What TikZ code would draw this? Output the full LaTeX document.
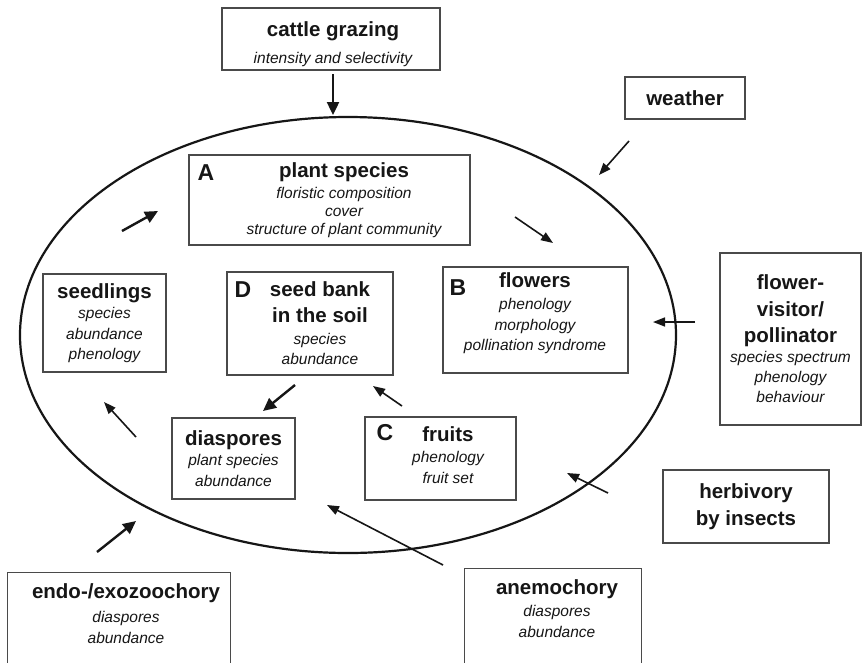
\documentclass[tikz,border=0pt]{standalone}
\usepackage{fontspec}
\setmainfont{Liberation Sans}
\usetikzlibrary{positioning,arrows.meta,shapes.geometric}
\definecolor{tinta}{HTML}{161616}
\definecolor{marco}{HTML}{4A4A4A}
\newcommand{\titulo}[1]{{\fontsize{20.5}{25}\selectfont\bfseries\upshape #1}}

\begin{document}
\begin{tikzpicture}[x=1pt, y=-1pt, color=tinta,
    caja/.style={draw=marco, line width=1.2pt, inner sep=0pt},
    texto/.style={inner sep=0pt, align=center, font=\fontsize{15.5}{20.5}\selectfont\itshape},
    letra/.style={inner sep=0pt, font=\fontsize{23}{23}\selectfont\bfseries},
    fina/.style={line width=1.6pt, -{Triangle[length=12pt,width=9pt]}},
    gruesa/.style={line width=2.4pt, -{Triangle[length=13pt,width=12pt]}}]
  \path[use as bounding box, fill=white] (0,0) rectangle (862,662);
  \node[draw, ellipse, line width=2.2pt, minimum width=656pt, minimum height=436pt, inner sep=0pt] (ciclo) at (348,335) {};

  % factores de fuera
  \node[caja, minimum width=218pt, minimum height=62pt] (pastoreo) at (331,39) {};
  \node[texto] (pastoreotxt) at (333,44) {\titulo{cattle grazing}\\[7pt]intensity and selectivity};
  \node[caja, texto, minimum width=120pt, minimum height=42pt] (clima) at (685,98) {\titulo{weather}};
  \node[caja, texto, minimum width=141pt, minimum height=172pt] (polinizador) at (790.5,339)
    {\titulo{flower-}\\[6pt]\titulo{visitor/}\\[6pt]\titulo{pollinator}\\[-0.5pt]species spectrum\\[-0.5pt]phenology\\[-0.5pt]behaviour};
  \node[caja, texto, minimum width=166pt, minimum height=73pt] (herbivoria) at (746,506.5)
    {\titulo{herbivory}\\[6.5pt]\titulo{by insects}};
  \node[caja, anchor=north west, minimum width=223pt, minimum height=130pt] (endozoo) at (7,572) {};
  \node[texto, anchor=north] (endozootxt) at (126,583) {\titulo{endo-/exozoochory}\\[4pt]diaspores\\abundance};
  \node[caja, anchor=north west, minimum width=177pt, minimum height=130pt] (anemo) at (464,568) {};
  \node[texto, anchor=north] (anemotxt) at (557,579) {\titulo{anemochory}\\[2pt]diaspores\\abundance};

  % ciclo de la planta
  \node[caja, minimum width=281pt, minimum height=90pt] (especies) at (329.5,200) {};
  \node[texto] (especiestxt) at (344,200)
    {\titulo{plant species}\\floristic composition\\[-2.5pt]cover\\[-2.5pt]structure of plant community};
  \node[letra, below right=10pt and 9pt of especies.north west] (letraA) {A};
  \node[caja, texto, minimum width=123pt, minimum height=98pt] (plantulas) at (104.5,323)
    {\titulo{seedlings}\\species\\abundance\\phenology};
  \node[caja, minimum width=166pt, minimum height=103pt] (banco) at (310,323.5) {};
  \node[texto] (bancotxt) at (320,323) {\titulo{seed bank}\\[6pt]\titulo{in the soil}\\[1pt]species\\abundance};
  \node[letra, below right=10pt and 8pt of banco.north west] (letraD) {D};
  \node[caja, minimum width=185pt, minimum height=106pt] (flores) at (535.5,320) {};
  \node[texto] (florestxt) at (535,313) {\titulo{flowers}\\[2pt]phenology\\morphology\\pollination syndrome};
  \node[letra, below right=13pt and 7pt of flores.north west] (letraB) {B};
  \node[caja, texto, minimum width=123pt, minimum height=81pt] (diasporas) at (233.5,458.5)
    {\titulo{diaspores}\\plant species\\abundance};
  \node[caja, minimum width=151pt, minimum height=83pt] (frutos) at (440.5,458.5) {};
  \node[texto] (frutostxt) at (448,455) {\titulo{fruits}\\[1pt]phenology\\fruit set};
  \node[letra, below right=8pt and 12pt of frutos.north west] (letraC) {C};

  % flechas
  \foreach \n/\xa/\ya/\xb/\yb in {pasto/333/74/333/115, brote/122/231/158/211,
      caida/295/385/263/411, zoo/97/552/136/521}
    {\coordinate (\n0) at (\xa,\ya); \coordinate (\n1) at (\xb,\yb);
     \draw[gruesa] (\n0) -- (\n1);}
  \foreach \n/\xa/\ya/\xb/\yb in {lluvia/629/141/599/175, flor/515/217/553/243,
      polen/695/322/653/322, reserva/402/406/373/386, germina/136/437/104/402,
      insecto/608/493/567/473, viento/443/565/327/505}
    {\coordinate (\n0) at (\xa,\ya); \coordinate (\n1) at (\xb,\yb);
     \draw[fina] (\n0) -- (\n1);}
\end{tikzpicture}
\end{document}
